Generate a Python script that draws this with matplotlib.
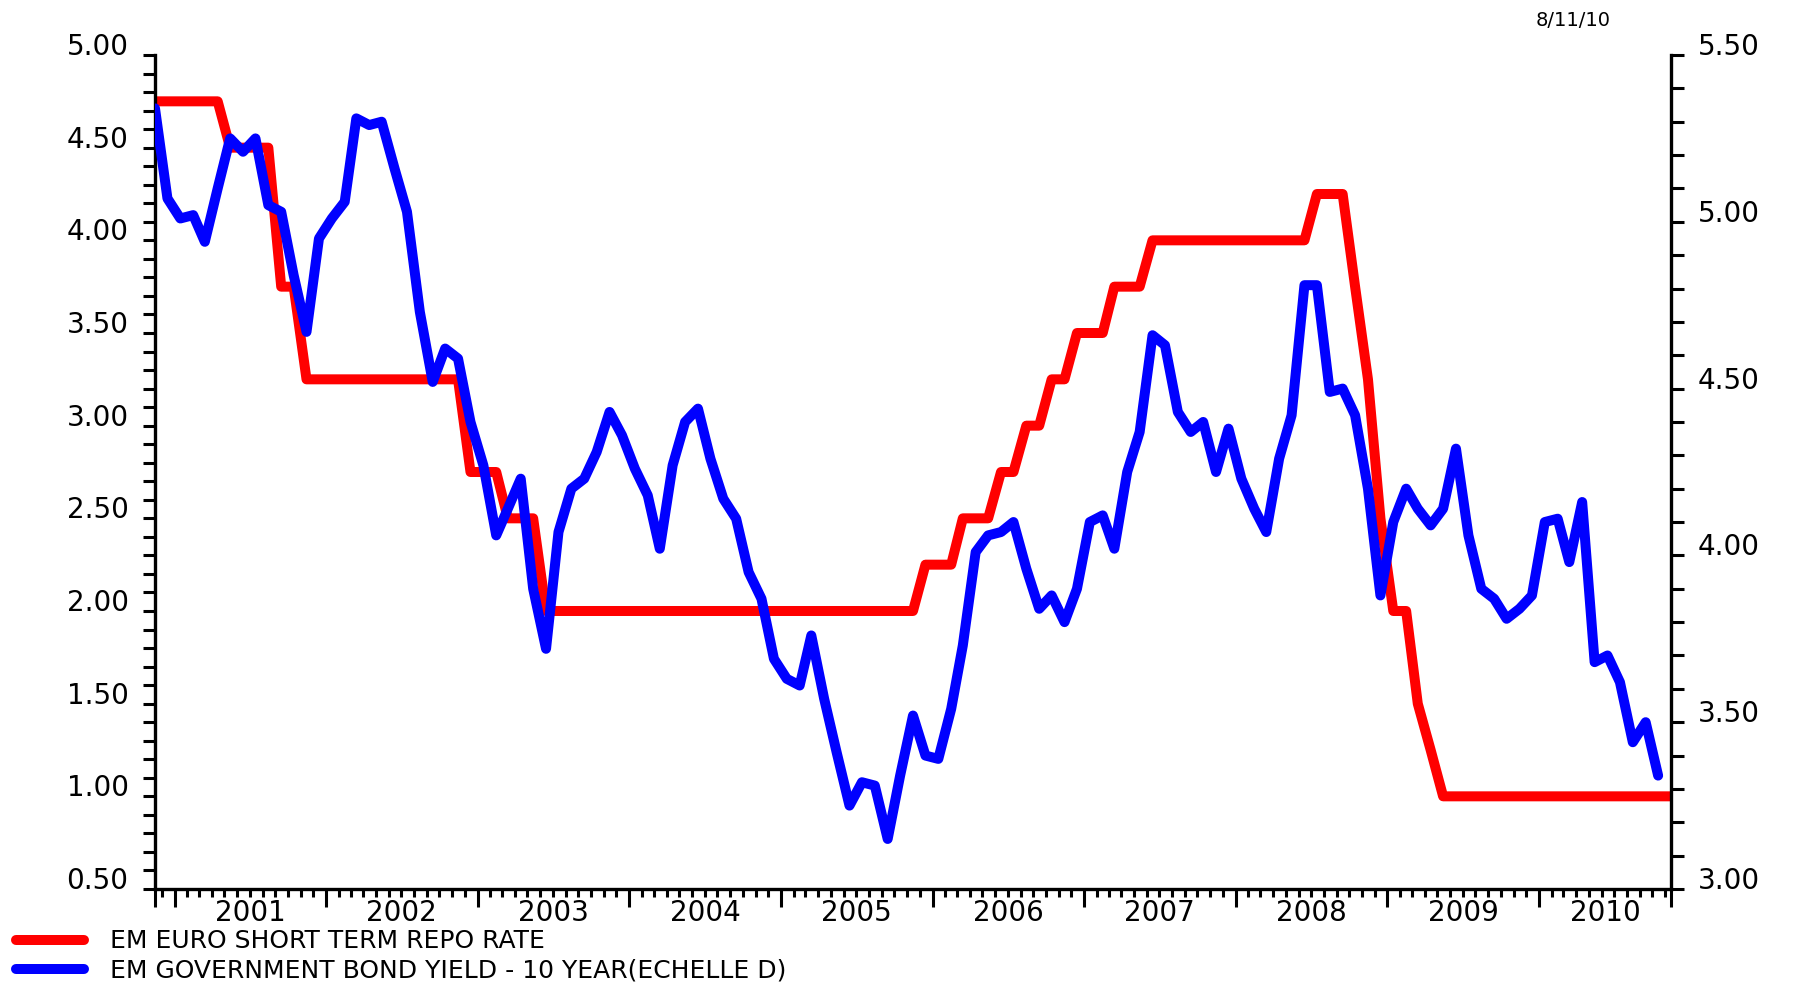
import pandas as pd
import matplotlib
matplotlib.use("Agg")
import matplotlib.pyplot as plt
import matplotlib.dates as mdates
from matplotlib.ticker import MultipleLocator, FormatStrFormatter, FixedLocator, NullFormatter

# monthly values (mid-month), Nov 2000 -> Nov 2010
repo_rate = [
    4.75, 4.75,                                                          # 2000 Nov-Dec
    4.75, 4.75, 4.75, 4.75, 4.50, 4.50, 4.50, 4.50, 3.75, 3.75, 3.25, 3.25,  # 2001
    3.25, 3.25, 3.25, 3.25, 3.25, 3.25, 3.25, 3.25, 3.25, 3.25, 3.25, 2.75,  # 2002
    2.75, 2.75, 2.50, 2.50, 2.50, 2.00, 2.00, 2.00, 2.00, 2.00, 2.00, 2.00,  # 2003
    2.00, 2.00, 2.00, 2.00, 2.00, 2.00, 2.00, 2.00, 2.00, 2.00, 2.00, 2.00,  # 2004
    2.00, 2.00, 2.00, 2.00, 2.00, 2.00, 2.00, 2.00, 2.00, 2.00, 2.00, 2.25,  # 2005
    2.25, 2.25, 2.50, 2.50, 2.50, 2.75, 2.75, 3.00, 3.00, 3.25, 3.25, 3.50,  # 2006
    3.50, 3.50, 3.75, 3.75, 3.75, 4.00, 4.00, 4.00, 4.00, 4.00, 4.00, 4.00,  # 2007
    4.00, 4.00, 4.00, 4.00, 4.00, 4.00, 4.25, 4.25, 4.25, 3.75, 3.25, 2.50,  # 2008
    2.00, 2.00, 1.50, 1.25, 1.00, 1.00, 1.00, 1.00, 1.00, 1.00, 1.00, 1.00,  # 2009
    1.00, 1.00, 1.00, 1.00, 1.00, 1.00, 1.00, 1.00, 1.00, 1.00, 1.00,        # 2010 Jan-Nov
]

bond_yield = [
    5.34, 5.07,                                                          # 2000 Nov-Dec
    5.01, 5.02, 4.94, 5.10, 5.25, 5.21, 5.25, 5.05, 5.03, 4.84, 4.67, 4.95,  # 2001
    5.01, 5.06, 5.31, 5.29, 5.30, 5.16, 5.03, 4.73, 4.52, 4.62, 4.59, 4.40,  # 2002
    4.27, 4.06, 4.14, 4.23, 3.90, 3.72, 4.07, 4.20, 4.23, 4.31, 4.43, 4.36,  # 2003
    4.26, 4.18, 4.02, 4.27, 4.40, 4.44, 4.29, 4.17, 4.11, 3.95, 3.87, 3.69,  # 2004
    3.63, 3.61, 3.76, 3.57, 3.41, 3.25, 3.32, 3.31, 3.15, 3.34, 3.52, 3.40,  # 2005
    3.39, 3.54, 3.73, 4.01, 4.06, 4.07, 4.10, 3.96, 3.84, 3.88, 3.80, 3.90,  # 2006
    4.10, 4.12, 4.02, 4.25, 4.37, 4.66, 4.63, 4.43, 4.37, 4.40, 4.25, 4.38,  # 2007
    4.23, 4.14, 4.07, 4.29, 4.42, 4.81, 4.81, 4.49, 4.50, 4.42, 4.20, 3.88,  # 2008
    4.10, 4.20, 4.14, 4.09, 4.14, 4.32, 4.06, 3.90, 3.87, 3.81, 3.84, 3.88,  # 2009
    4.10, 4.11, 3.98, 4.16, 3.68, 3.70, 3.62, 3.44, 3.50, 3.34,              # 2010 Jan-Oct
]

series_labels = ["EM EURO SHORT TERM REPO RATE",
                 "EM GOVERNMENT BOND YIELD - 10 YEAR(ECHELLE D)"]
years = list(range(2001, 2011))
stamp = "8/11/10"

dates = pd.date_range("2000-11-01", periods=len(repo_rate), freq="MS") + pd.Timedelta(days=14)

W, H = 1796, 983
fig = plt.figure(figsize=(W / 100, H / 100), dpi=100)
ax = fig.add_axes([155 / W, 1 - 889 / H, (1671 - 155) / W, (889 - 55) / H])
ax2 = ax.twinx()

red_line, = ax.plot(dates, repo_rate, color="#ff0000", lw=7.2,
                    solid_capstyle="round", solid_joinstyle="round")
blue_line, = ax2.plot(dates[:len(bond_yield)], bond_yield, color="#0000ff", lw=7.2,
                      solid_capstyle="round", solid_joinstyle="round")

ax.set_xlim(dates[0], dates[-1])
ax.set_ylim(0.5, 5.0)
ax2.set_ylim(3.0, 5.5)

# spines
for s in ["top", "right"]:
    ax.spines[s].set_visible(False)
for s in ["top", "left", "bottom"]:
    ax2.spines[s].set_visible(False)
for s in [ax.spines["left"], ax.spines["bottom"], ax2.spines["right"]]:
    s.set_linewidth(2.4)

# y axes
for a in (ax, ax2):
    a.yaxis.set_major_locator(MultipleLocator(0.5))
    a.yaxis.set_minor_locator(MultipleLocator(0.1))
    a.yaxis.set_major_formatter(FormatStrFormatter("%.2f"))
    a.tick_params(axis="y", which="both", direction="out", length=9, width=2.2)
    a.tick_params(axis="y", which="major", labelsize=20, pad=10)

# x axis: long ticks at year boundaries and axis ends, short monthly ticks
x0, x1 = mdates.date2num(dates[0]), mdates.date2num(dates[-1])
major = [x0] + [mdates.date2num(pd.Timestamp(f"{y}-01-01")) for y in years] + [x1]
ax.xaxis.set_major_locator(FixedLocator(major))
ax.xaxis.set_major_formatter(NullFormatter())
ax.xaxis.set_minor_locator(mdates.MonthLocator())
ax.xaxis.set_minor_formatter(NullFormatter())
ax.tick_params(axis="x", which="major", direction="out", length=13, width=2.2)
ax.tick_params(axis="x", which="minor", direction="out", length=6, width=2.2)

trans = ax.get_xaxis_transform()
for y in years:
    start = max(pd.Timestamp(f"{y}-01-01"), dates[0])
    end = min(pd.Timestamp(f"{y + 1}-01-01"), dates[-1])
    ax.text(start + (end - start) / 2, -0.029, str(y), transform=trans,
            ha="center", va="center", fontsize=20)

fig.text(1573 / W, 1 - 20 / H, stamp, ha="center", va="center", fontsize=14)

fig.legend([red_line, blue_line], series_labels, loc="center left",
           bbox_to_anchor=(16 / W, 1 - 956 / H), frameon=False, fontsize=18,
           handlelength=2.7, handletextpad=1.05, labelspacing=0.22,
           borderpad=0, borderaxespad=0)

plt.setp(ax.get_yticklabels(), va="baseline")
plt.setp(ax2.get_yticklabels(), va="baseline")

fig.savefig("out.png", dpi=100)
